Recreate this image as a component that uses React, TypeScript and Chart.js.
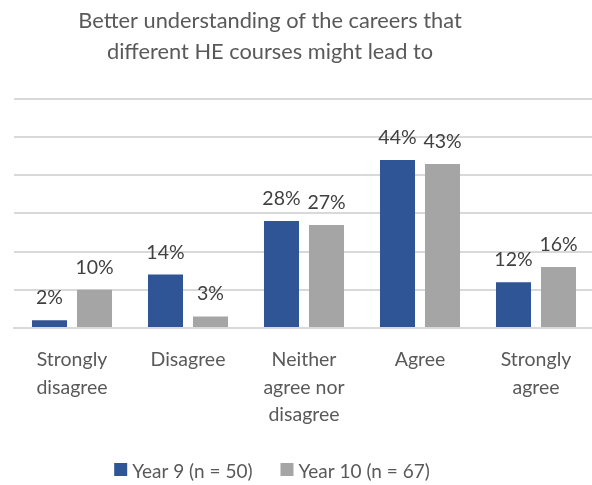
import React, { useEffect, useRef } from "react";
import { Chart, registerables } from "chart.js";

Chart.register(...registerables);

const categories: string[][] = [
  ["Strongly", "disagree"],
  ["Disagree"],
  ["Neither", "agree nor", "disagree"],
  ["Agree"],
  ["Strongly", "agree"],
];
const year9: number[] = [2, 14, 28, 44, 12];
const year10: number[] = [10, 3, 27, 43, 16];
const seriesNames: string[] = ["Year 9 (n = 50)", "Year 10 (n = 67)"];
const seriesColors: string[] = ["#2F5597", "#A5A5A5"];
const titleLines: string[] = [
  "Better understanding of the careers that",
  "different HE courses might lead to",
];

const FONT = "Lato, 'Open Sans', sans-serif";

const valueLabels = {
  id: "valueLabels",
  afterDatasetsDraw(chart: any) {
    const ctx = chart.ctx;
    ctx.save();
    ctx.font = `19.5px ${FONT}`;
    ctx.fillStyle = "#404040";
    ctx.textAlign = "center";
    ctx.textBaseline = "alphabetic";
    chart.data.datasets.forEach((ds: any, i: number) => {
      const meta = chart.getDatasetMeta(i);
      meta.data.forEach((bar: any, j: number) => {
        ctx.fillText(ds.data[j] + "%", bar.x, bar.y - 16);
      });
    });
    ctx.restore();
  },
};

// shift title so it is centred like the original
const shiftBoxes = {
  id: "shiftBoxes",
  afterLayout(chart: any) {
    const dx = -34;
    const b = chart.titleBlock;
    if (b) {
      b.left += dx;
      b.right += dx;
    }
  },
};

// legend drawn at the bottom, centred like the original
const bottomLegend = {
  id: "bottomLegend",
  afterDraw(chart: any) {
    const ctx = chart.ctx;
    ctx.save();
    ctx.font = `19px ${FONT}`;
    ctx.textBaseline = "alphabetic";
    ctx.textAlign = "left";
    const box = 13;
    const gapText = 5;
    const gapItem = 28;
    const items = chart.data.datasets.map((ds: any) => ({
      text: ds.label,
      color: ds.backgroundColor,
      w: ctx.measureText(ds.label).width,
    }));
    let total = 0;
    items.forEach((it: any, i: number) => {
      total += box + gapText + it.w + (i > 0 ? gapItem : 0);
    });
    const cx = (chart.chartArea.left + chart.chartArea.right) / 2 - 32;
    let x = cx - total / 2;
    const baseline = 478;
    items.forEach((it: any) => {
      ctx.fillStyle = it.color;
      ctx.fillRect(x, baseline - 15, box, box);
      x += box + gapText;
      ctx.fillStyle = "#595959";
      ctx.fillText(it.text, x, baseline);
      x += it.w + gapItem;
    });
    ctx.restore();
  },
};

export default function App() {
  const ref = useRef<HTMLCanvasElement>(null);
  useEffect(() => {
    const chart = new Chart(ref.current!, {
      type: "bar",
      data: {
        labels: categories,
        datasets: [
          { label: seriesNames[0], data: year9, backgroundColor: seriesColors[0] },
          { label: seriesNames[1], data: year10, backgroundColor: seriesColors[1] },
        ],
      },
      options: {
        animation: false,
        responsive: false,
        maintainAspectRatio: false,
        layout: { padding: { left: 14, right: 10, top: 0, bottom: 46 } },
        datasets: {
          bar: { categoryPercentage: 0.776, barPercentage: 0.778 },
        },
        scales: {
          x: {
            grid: { display: false },
            border: { display: true, color: "#D9D9D9", width: 2 },
            ticks: {
              color: "#595959",
              font: { family: FONT, size: 19.5, lineHeight: 1.42 },
              maxRotation: 0,
              autoSkip: false,
              padding: 10,
            },
          },
          y: {
            min: 0,
            max: 60,
            ticks: { stepSize: 10, display: false },
            grid: { color: "#D9D9D9", lineWidth: 2, drawTicks: false },
            border: { display: false },
          },
        },
        plugins: {
          title: {
            display: true,
            text: titleLines,
            color: "#595959",
            font: { family: FONT, size: 21.8, weight: "normal", lineHeight: 1.4 },
            padding: { top: 6, bottom: 32 },
          },
          legend: { display: false },
          tooltip: { enabled: false },
        },
      },
      plugins: [valueLabels, shiftBoxes, bottomLegend],
    });
    return () => chart.destroy();
  }, []);
  return (
    <div style={{ position: "fixed", left: 0, top: 0, width: 604, height: 485, background: "#fff" }}>
      <canvas ref={ref} width={604} height={485} />
    </div>
  );
}
